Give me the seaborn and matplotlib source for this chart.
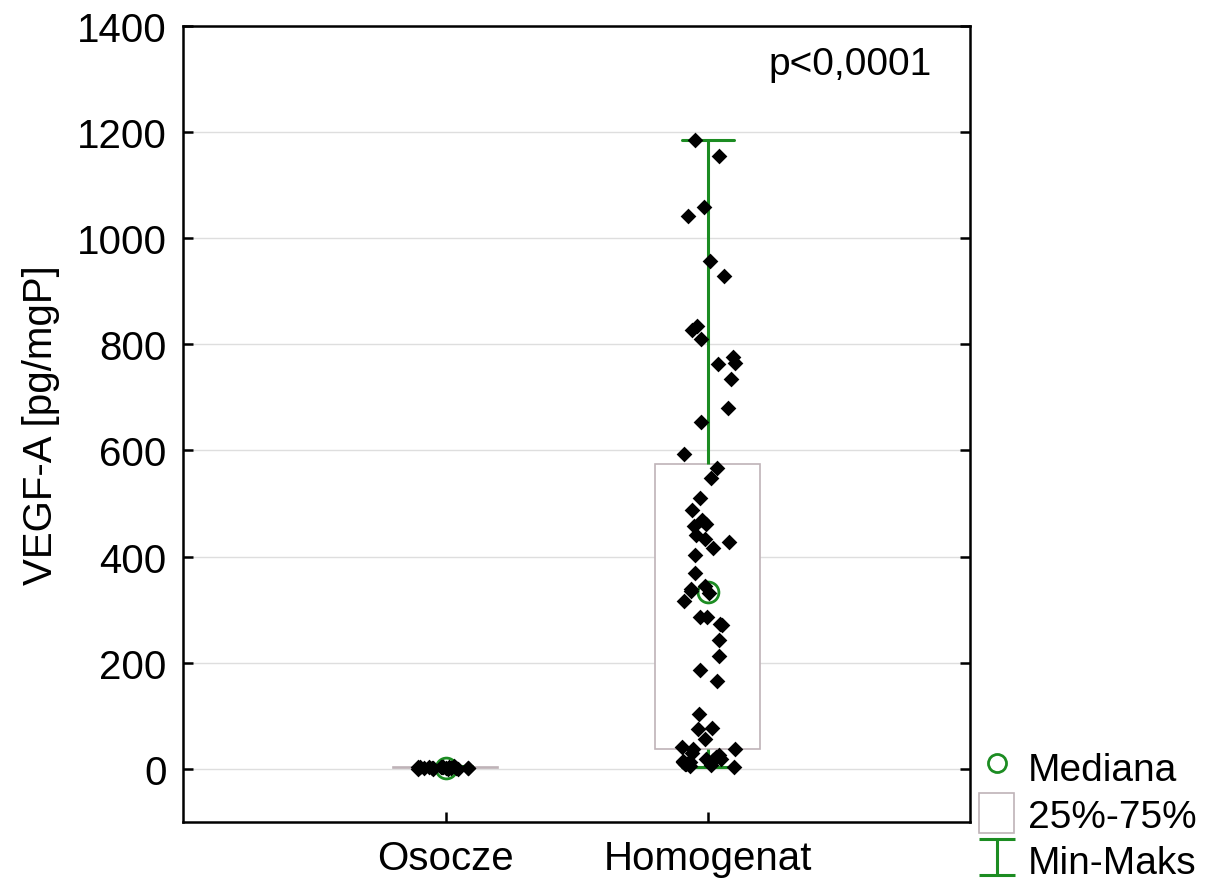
import numpy as np
import pandas as pd
import matplotlib
matplotlib.use("Agg")
import matplotlib.pyplot as plt
from matplotlib.path import Path
from matplotlib.lines import Line2D
from matplotlib.patches import Patch
import seaborn as sns

# values
grupy = ["Osocze", "Homogenat"]
osocze = [0.4, 0.8, 1.1, 1.5, 1.9, 2.2, 2.6, 3.0, 3.3, 3.8, 4.2, 4.6,
          5.1, 0.2, 1.3, 2.4, 0.6, 3.5, 1.7, 2.9]
homogenat = [1184, 1154, 1059, 1042, 956, 929, 835, 827, 810, 775, 765, 763,
             735, 680, 654, 594,
             567, 548, 511, 488, 469, 462, 458, 441, 434, 428, 417, 403, 369,
             345, 339, 336, 332, 317, 287, 287, 273, 271, 243, 213, 187, 166,
             104, 77, 75, 57, 41, 38, 38,
             30, 26, 22, 19, 18, 17, 15, 14, 13, 12, 10, 9, 7, 5, 3]
y_ticks = [0, 200, 400, 600, 800, 1000, 1200, 1400]
p_text = "p<0,0001"
legend_labels = ["Mediana", "25%-75%", "Min-Maks"]

df = pd.DataFrame({
    "grupa": ["Osocze"] * len(osocze) + ["Homogenat"] * len(homogenat),
    "VEGF": osocze + homogenat,
})

green = "#1c8c22"
boxedge = "#bfb3b8"

sns.set_style("white")
plt.rcParams["font.family"] = ["Liberation Sans", "DejaVu Sans"]
plt.rcParams["font.size"] = 28
for k in ["text.color", "axes.labelcolor", "xtick.color", "ytick.color"]:
    plt.rcParams[k] = "black"

fig = plt.figure(figsize=(12.14, 8.87), dpi=100)
ax = fig.add_axes([0.151, 0.072, 0.648, 0.898])

sns.boxplot(data=df, x="grupa", y="VEGF", order=grupy, whis=(0, 100), width=0.4,
            showfliers=False, color="white", linecolor=boxedge, linewidth=1.2,
            whiskerprops={"color": green, "linewidth": 2.2},
            capprops={"color": green, "linewidth": 2.2},
            medianprops={"linewidth": 0, "alpha": 0},
            ax=ax)
np.random.seed(3)
sns.stripplot(data=df, x="grupa", y="VEGF", order=grupy, jitter=0.11,
              marker="D", color="black", size=8, linewidth=0, ax=ax, zorder=4)
sns.pointplot(data=df, x="grupa", y="VEGF", order=grupy, estimator=np.median,
              errorbar=None, linestyle="none", marker="o", color=green,
              markerfacecolor="none", markeredgewidth=2, markersize=15, ax=ax)

ax.set_xlim(-1, 2)
ax.set_ylim(-100, 1400)
ax.set_yticks(y_ticks)
ax.set_xlabel("")
ax.set_ylabel("VEGF-A [pg/mgP]", fontsize=29, labelpad=12)
ax.yaxis.grid(True, color="#dedede", linewidth=1)
ax.set_axisbelow(True)
for s in ax.spines.values():
    s.set_visible(True)
    s.set_color("black")
    s.set_linewidth(1.8)
ax.tick_params(axis="both", direction="in", length=7, width=1.8, labelsize=29,
               pad=12)
ax.tick_params(axis="y", right=True, left=True)
ax.tick_params(axis="x", bottom=True, top=False)

ax.text(0.848, 0.952, p_text, transform=ax.transAxes, ha="center", va="center",
        fontsize=28)

ibeam = Path([(-1, 1), (1, 1), (0, 1), (0, -1), (-1, -1), (1, -1)],
             [Path.MOVETO, Path.LINETO, Path.MOVETO, Path.LINETO,
              Path.MOVETO, Path.LINETO])
handles = [
    Line2D([], [], linestyle="none", marker="o", markerfacecolor="none",
           markeredgecolor=green, markeredgewidth=2, markersize=13),
    Patch(facecolor="white", edgecolor=boxedge, linewidth=1.2),
    Line2D([], [], linestyle="none", marker=ibeam, markeredgecolor=green,
           markeredgewidth=2.2, markersize=26),
]
fig.legend(handles, legend_labels, loc="lower left",
           bbox_to_anchor=(0.797, -0.008), frameon=False, fontsize=28,
           handlelength=0.9, handletextpad=0.35, labelspacing=0.15,
           borderpad=0.2, borderaxespad=0.1, handleheight=1.2)

fig.savefig("out.png", dpi=100)
